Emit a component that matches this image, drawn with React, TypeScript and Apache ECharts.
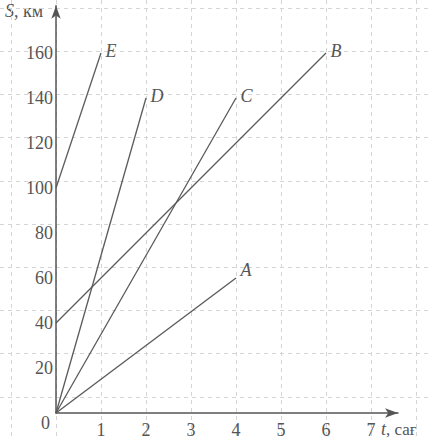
import React, { useEffect, useRef } from "react";
import * as echarts from "echarts";

const lineNames = ["A", "B", "C", "D", "E"];
const lineA = [[0, 0], [4, 60]];
const lineB = [[0, 40], [6, 160]];
const lineC = [[0, 0], [4, 140]];
const lineD = [[0, 0], [2, 140]];
const lineE = [[0, 100], [1, 160]];
const xTickLabels = ["1", "2", "3", "4", "5", "6", "7"];
const yTickLabels = ["20", "40", "60", "80", "100", "120", "140", "160"];

const FONT = "Liberation Serif";
const TXT = "#555";

export default function App() {
  const ref = useRef<HTMLDivElement>(null);
  useEffect(() => {
    document.body.style.margin = "0";
    const chart = echarts.init(ref.current!, null, { renderer: "svg" });
    const lines = [lineA, lineB, lineC, lineD, lineE];
    const series = lines.map((pts, i) => ({
      type: "line",
      name: lineNames[i],
      xAxisIndex: 2,
      yAxisIndex: 2,
      symbol: "circle",
      symbolSize: 1,
      showSymbol: true,
      itemStyle: { color: "rgba(0,0,0,0)" },
      lineStyle: { color: "#5a5a5a", width: 1.3 },
      data: pts.map((p, j) =>
        j === pts.length - 1
          ? {
              value: p,
              label: {
                show: true,
                position: "right",
                offset: i === 0 ? [-1, -8] : [-1, -2],
                formatter: lineNames[i],
                fontFamily: FONT,
                fontStyle: "italic",
                fontSize: 18,
                color: TXT,
              },
            }
          : { value: p, label: { show: false } }
      ),
    }));
    chart.setOption({
      animation: false,
      backgroundColor: "#fff",
      textStyle: { fontFamily: FONT },
      grid: [
        { left: 0, right: 0, top: 8, height: 450 },
        { left: 11, width: 405, top: 0, bottom: 0 },
        { left: 56, width: 342, top: 5.75, height: 407.25 },
      ],
      xAxis: [
        { gridIndex: 0, type: "value", min: 0, max: 1, show: false },
        {
          gridIndex: 1,
          type: "value",
          min: -1,
          max: 8,
          interval: 1,
          axisLine: { show: false },
          axisTick: { show: false },
          axisLabel: { show: false },
          splitLine: { show: true, lineStyle: { color: "#d4d4d4", type: [4, 4], width: 1 } },
        },
        {
          gridIndex: 2,
          type: "value",
          min: 0,
          max: 7.6,
          interval: 1,
          axisLine: {
            show: true,
            onZero: false,
            symbol: ["none", "arrow"],
            symbolSize: [7, 13],
            lineStyle: { color: "#555", width: 1.5 },
          },
          axisTick: { show: false },
          splitLine: { show: false },
          axisLabel: {
            margin: 8,
            fontFamily: FONT,
            fontSize: 18,
            color: TXT,
            formatter: (v: number) => (v >= 1 && v <= 7 ? xTickLabels[v - 1] : ""),
          },
        },
      ],
      yAxis: [
        {
          gridIndex: 0,
          type: "value",
          min: -20,
          max: 180,
          interval: 20,
          axisLine: { show: false },
          axisTick: { show: false },
          axisLabel: { show: false },
          splitLine: { show: true, lineStyle: { color: "#d4d4d4", type: [4, 4], width: 1 } },
        },
        { gridIndex: 1, type: "value", min: 0, max: 1, show: false },
        {
          gridIndex: 2,
          type: "value",
          min: 0,
          max: 181,
          interval: 20,
          axisLine: {
            show: true,
            onZero: false,
            symbol: ["none", "arrow"],
            symbolSize: [7, 13],
            lineStyle: { color: "#555", width: 1.5 },
          },
          axisTick: { show: false },
          splitLine: { show: false },
          axisLabel: {
            margin: 3,
            fontFamily: FONT,
            fontSize: 18,
            color: TXT,
            formatter: (v: number) => (v >= 20 && v <= 160 ? yTickLabels[v / 20 - 1] : ""),
          },
        },
      ],
      graphic: [
        {
          type: "text",
          left: 41,
          top: 414,
          style: { text: "0", font: "18px Liberation Serif", fill: TXT },
        },
        {
          type: "text",
          left: 5,
          top: 2,
          style: {
            text: "{s|S}{k|, км}",
            fill: TXT,
            rich: {
              s: { fontFamily: FONT, fontStyle: "italic", fontSize: 18, color: TXT },
              k: { fontFamily: FONT, fontSize: 18, color: TXT },
            },
          },
        },
        {
          type: "text",
          left: 381,
          top: 420,
          style: {
            text: "{s|t}{k|, сағ}",
            fill: TXT,
            rich: {
              s: { fontFamily: FONT, fontStyle: "italic", fontSize: 18, color: TXT },
              k: { fontFamily: FONT, fontSize: 17, color: TXT },
            },
          },
        },
      ],
      series,
    });
    return () => chart.dispose();
  }, []);
  return <div ref={ref} style={{ width: 428, height: 440 }} />;
}
